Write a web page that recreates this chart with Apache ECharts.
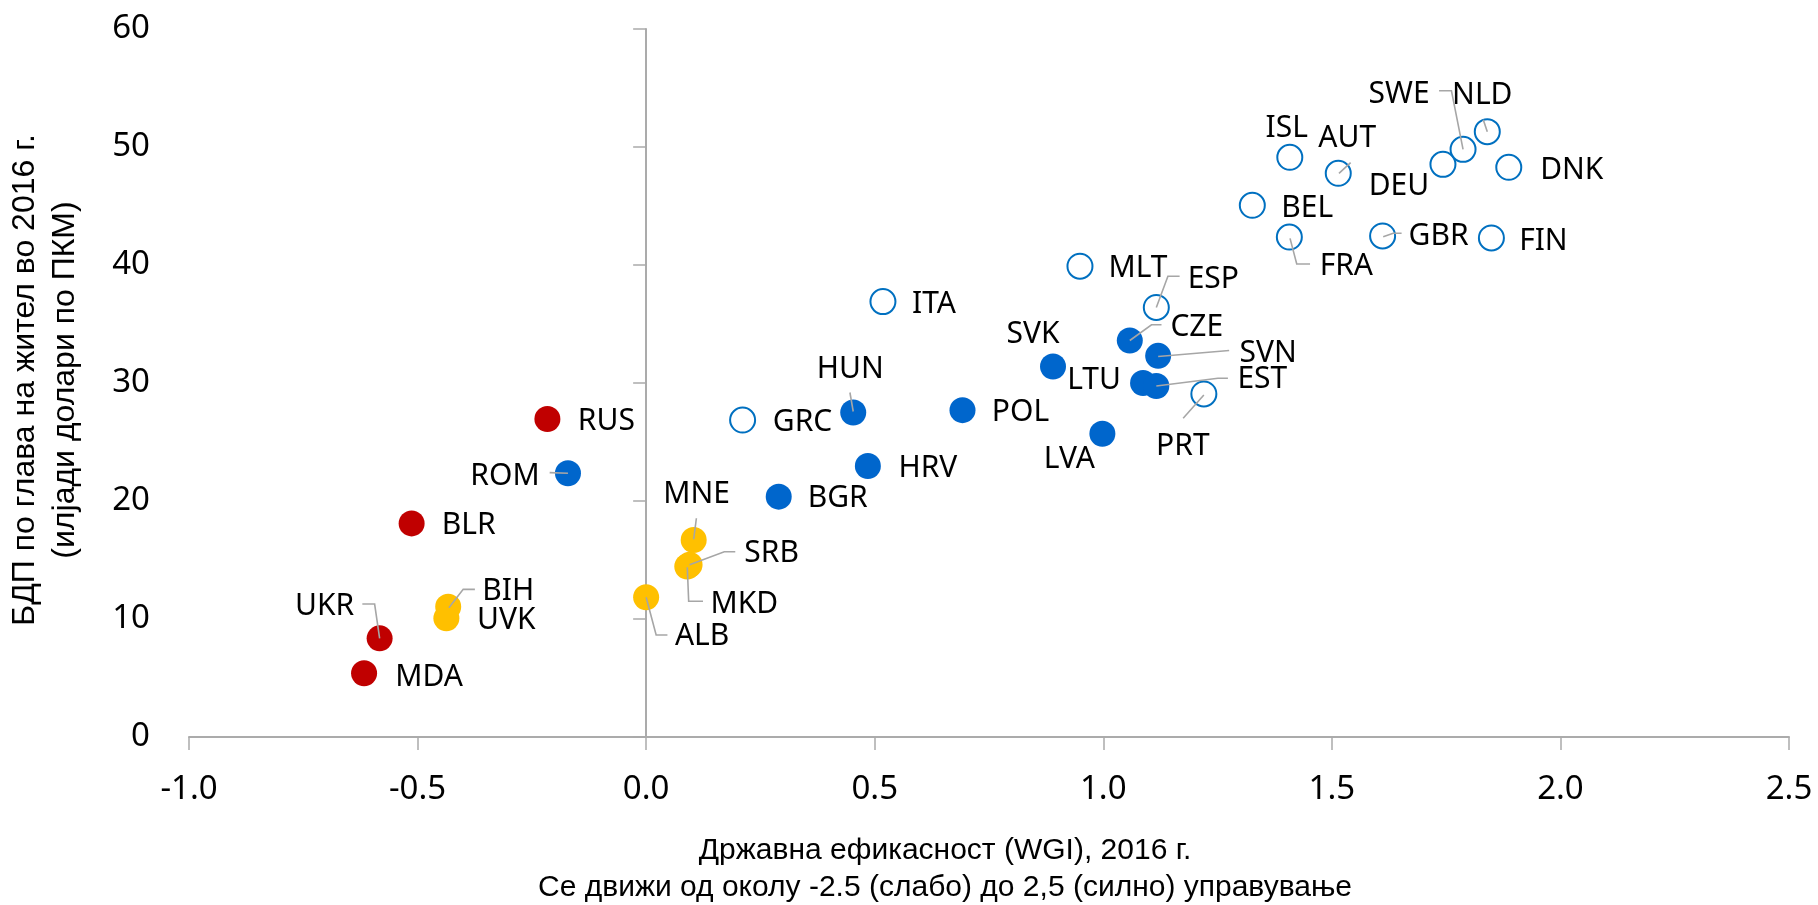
<!DOCTYPE html>
<html>
<head>
<meta charset="utf-8">
<script src="https://cdn.jsdelivr.net/npm/echarts@6/dist/echarts.min.js"></script>
<style>
html,body{margin:0;padding:0;background:#fff;}
#chart{width:1818px;height:905px;}
</style>
</head>
<body>
<div id="chart"></div>
<script>
// ---- Data ----
const countries = ['RUS','BLR','UKR','MDA','BIH','UVK','MNE','SRB','MKD','ALB','ROM','HUN','POL','HRV','BGR','SVK','CZE','SVN','LTU','EST','LVA','GRC','ITA','MLT','ESP','PRT','ISL','AUT','BEL','FRA','GBR','FIN','DNK','DEU','SWE','NLD'];
const wgi = [-0.216,-0.513,-0.583,-0.617,-0.433,-0.437,0.104,0.095,0.090,0.000,-0.171,0.453,0.692,0.485,0.290,0.890,1.058,1.120,1.087,1.116,0.998,0.211,0.518,0.949,1.116,1.220,1.408,1.514,1.326,1.407,1.611,1.849,1.887,1.743,1.787,1.840];
const gdp = [26.95,18.1,8.36,5.4,11.04,10.06,16.7,14.6,14.45,11.84,22.35,27.5,27.7,22.97,20.37,31.4,33.6,32.3,30.0,29.75,25.7,26.86,36.9,39.9,36.4,29.07,49.13,47.77,45.06,42.37,42.46,42.29,48.28,48.53,49.8,51.3];
const group = ['red','red','red','red','yellow','yellow','yellow','yellow','yellow','yellow','blue','blue','blue','blue','blue','blue','blue','blue','blue','blue','blue','open','open','open','open','open','open','open','open','open','open','open','open','open','open','open'];
const xTicks = {min:-1, max:2.5, step:0.5};
const yTicks = {min:0, max:60, step:10};
const xTitle = 'Државна ефикасност (WGI), 2016 г.\nСе движи од околу -2.5 (слабо) до 2,5 (силно) управување';
const yTitle = 'БДП по глава на жител во 2016 г.\n(илјади долари по ПКМ)';

// ---- Layout (pixel offsets of labels and leader lines relative to each point) ----
const labelOffsets = {
  RUS:[59,2], BLR:[57,2], UKR:[-55,-32], MDA:[65,4], BIH:[60,-15], UVK:[60,2],
  MNE:[3,-45], SRB:[82,-11], MKD:[57,38], ALB:[56,39], ROM:[-63,3], HUN:[-3,-43],
  POL:[58,2], HRV:[60,2], BGR:[59,2], SVK:[-20,-32], CZE:[67,-13], SVN:[110,-2],
  LTU:[-49,-3], EST:[106,-6], LVA:[-33,26], GRC:[60,2], ITA:[51,3], MLT:[58,2],
  ESP:[57,-28], PRT:[-21,52], ISL:[-3,-29], AUT:[9,-35], BEL:[55,3], FRA:[57,29],
  GBR:[56,0], FIN:[52,3], DNK:[63,3], DEU:[-44,22], SWE:[-64,-55], NLD:[-5,-36]
};
const leaders = {
  SWE:[[-24,-58.6],[-11.6,-58.6],[0,0]],
  NLD:[[-4,-12],[0,0]],
  AUT:[[12.4,-10.6],[0.7,0]],
  GBR:[[19,-2.7],[10.6,-2.7],[0.6,0.7]],
  FRA:[[20.7,27],[7.4,27],[0.7,1.3]],
  ESP:[[23.3,-31.3],[11.6,-31.3],[0,0]],
  CZE:[[31.7,-15.7],[21.7,-15.7],[0,0]],
  SVN:[[71,-5.3],[0,0.7]],
  EST:[[71.6,-7.7],[61.6,-7.7],[0,0]],
  PRT:[[-20.7,24.3],[0,1]],
  HUN:[[-3.3,-20],[0,-1]],
  MNE:[[2.7,-21.7],[0,-0.7]],
  SRB:[[45.7,-13],[34.7,-13],[0,0]],
  MKD:[[15.7,34.7],[1.4,34.7],[0,0.7]],
  ALB:[[21.3,37.7],[10,37.7],[0,0]],
  ROM:[[-18.3,-0.6],[0,0]],
  BIH:[[26.7,-17.4],[15,-17.4],[0.7,1]],
  UKR:[[-17.3,-34.3],[-5,-34.3],[0,0]]
};
const styles = {
  red:{color:'#C00000', opacity:1},
  yellow:{color:'#FFC000', opacity:1},
  blue:{color:'#0066CC', opacity:1},
  open:{color:'#FFFFFF', borderColor:'#0070C0', borderWidth:2, opacity:1}
};

const labelFont = 'Noto Sans';
const titleFont = 'Liberation Sans';
const axisColor = '#ABABAB';

function groupData(g){
  const out = [];
  countries.forEach((c,i)=>{
    if(group[i]===g){
      out.push({name:c, value:[wgi[i], gdp[i]], label:{offset:labelOffsets[c]}});
    }
  });
  return out;
}

const scatterSeries = ['red','yellow','blue','open'].map(g=>({
  type:'scatter',
  name:g,
  symbol:'circle',
  symbolSize: g==='open' ? 25 : 26,
  itemStyle: styles[g],
  z: 3,
  label:{
    show:true,
    position:'inside',
    formatter:p=>p.name,
    color:'#000',
    fontFamily:labelFont,
    fontSize:30,
    align:'center',
    verticalAlign:'middle'
  },
  emphasis:{disabled:true},
  data: groupData(g)
}));

const leaderData = countries.map((c,i)=>[wgi[i], gdp[i], i]).filter(d=>leaders[countries[d[2]]]);

const leaderSeries = {
  type:'custom',
  coordinateSystem:'cartesian2d',
  z: 4,
  silent:true,
  renderItem:(params, api)=>{
    const i = api.value(2);
    const p = api.coord([api.value(0), api.value(1)]);
    const pts = leaders[countries[i]].map(d=>[p[0]+d[0], p[1]+d[1]]);
    return {type:'polyline', shape:{points:pts}, style:{stroke:'#A6A6A6', lineWidth:1.6, fill:null}};
  },
  encode:{x:0, y:1},
  data: leaderData
};

const chart = echarts.init(document.getElementById('chart'));
chart.setOption({
  animation:false,
  backgroundColor:'#fff',
  grid:{left:189, right:29, top:29, bottom:168},
  xAxis:{
    type:'value', min:xTicks.min, max:xTicks.max, interval:xTicks.step,
    axisLine:{show:true, onZero:true, lineStyle:{color:axisColor, width:2}},
    axisTick:{show:true, length:13, lineStyle:{color:axisColor, width:1.5}},
    splitLine:{show:false},
    axisLabel:{formatter:v=>v.toFixed(1), color:'#000', fontFamily:labelFont, fontSize:33, margin:33, lineHeight:40}
  },
  yAxis:[{
    type:'value', min:yTicks.min, max:yTicks.max, interval:yTicks.step,
    axisLine:{show:false}, axisTick:{show:false}, splitLine:{show:false},
    axisLabel:{color:'#000', fontFamily:labelFont, fontSize:33, margin:39}
  },{
    type:'value', min:yTicks.min, max:yTicks.max, interval:yTicks.step,
    position:'left',
    axisLine:{show:true, onZero:true, onZeroAxisIndex:0, lineStyle:{color:axisColor, width:2}},
    axisTick:{show:true, length:13, lineStyle:{color:axisColor, width:1.5}},
    axisLabel:{show:false}, splitLine:{show:false}
  }],
  graphic:[
    {type:'text', x:945, y:869, style:{text:xTitle, align:'center', verticalAlign:'middle', fontFamily:titleFont, fontSize:30, lineHeight:37, fill:'#000'}},
    {type:'text', x:45, y:380, rotation:Math.PI/2, style:{text:yTitle, align:'center', verticalAlign:'middle', fontFamily:titleFont, fontSize:32, lineHeight:40, fill:'#000'}}
  ],
  series:[...scatterSeries, leaderSeries]
});
</script>
</body>
</html>
